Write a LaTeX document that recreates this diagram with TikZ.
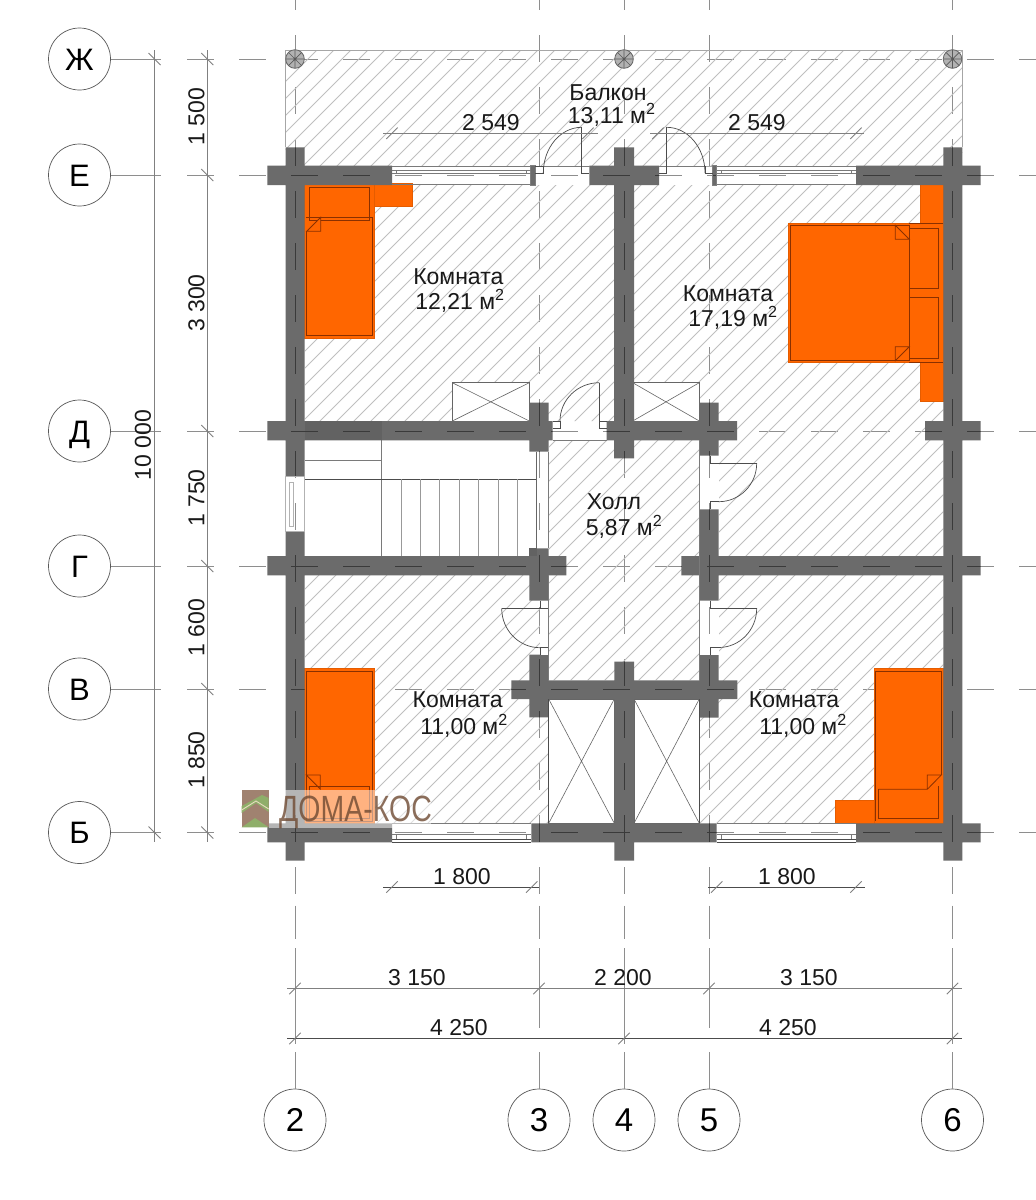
\documentclass[tikz,border=0pt]{standalone}
\usepackage{fontspec}
\setmainfont{Liberation Sans}
\definecolor{wallc}{HTML}{6B6B6B}
\definecolor{wallb}{HTML}{626262}
\definecolor{axisc}{HTML}{8E8E8E}
\definecolor{axisd}{HTML}{3A3A3A}
\definecolor{hatchc}{HTML}{BFBFBF}
\definecolor{orng}{HTML}{FF6600}
\definecolor{orne}{HTML}{E55C00}
\definecolor{ornl}{HTML}{8A3000}
\definecolor{linec}{HTML}{7A7A7A}
\definecolor{dimc}{HTML}{808080}
\definecolor{logob}{HTML}{A08270}
\definecolor{logog}{HTML}{8FAE6A}
\definecolor{logoc}{HTML}{E8DCC0}
\definecolor{logot}{HTML}{6F4A32}
\tikzset{
  axisln/.style={draw=axisc,line width=0.9pt},
  axiscirc/.style={circle,draw=black!65,line width=0.7pt,fill=white,minimum size=62pt,inner sep=0pt,text height=22pt,text depth=0pt},
  axislet/.style={axiscirc,font=\fontsize{31}{31}\selectfont},
  axisnum/.style={axiscirc,font=\fontsize{33}{33}\selectfont,text height=23.5pt},
  lbl/.style={inner sep=0pt,font=\fontsize{23}{23}\selectfont,text height=16.5pt,text depth=0pt,text=black!90},
  dimln/.style={draw=dimc,line width=0.9pt},
  dimdk/.style={draw=black!70,line width=0.9pt},
  thin line/.style={draw=linec,line width=0.8pt},
  dark line/.style={draw=black!70,line width=0.7pt},
  bedfill/.style={fill=orng,draw=orne,line width=1pt},
  bedline/.style={draw=ornl,line width=0.8pt},
}
\def\wallpath{
 (285.7,147.3) rectangle (304.7,476.7) (285.7,531.3) rectangle (304.7,860.7)
 (614,147.3) rectangle (634,458.3)
 (614.3,661.7) rectangle (634,860.7)
 (943.3,147.3) rectangle (962.3,860.7)
 (267.3,165.7) rectangle (392,185) (530.7,165.7) rectangle (535.3,185)
 (589.3,165.7) rectangle (659,185) (712.7,165.7) rectangle (716.7,185)
 (856,165.7) rectangle (980.7,185)
 (267.3,421) rectangle (552.7,440.3) (606.7,421) rectangle (737,440.3) (925,421) rectangle (980.7,440.3)
 (529.3,402.7) rectangle (548.7,451.7) (699.3,402.7) rectangle (718.7,455.7)
 (699.3,509.3) rectangle (718.7,600.7) (699.3,655) rectangle (718.7,717.7)
 (267.3,556) rectangle (566.3,575.3) (681.3,556) rectangle (980.7,575.3)
 (529.3,548.3) rectangle (548.7,600.7) (529.3,654.7) rectangle (548.7,717.3)
 (511.3,680.3) rectangle (737.3,699)
 (267.3,823.3) rectangle (392,842.3) (531.3,823.3) rectangle (716.7,842.3) (856,823.3) rectangle (980.7,842.3)
}
\def\hatchpath{
 (285.5,50) rectangle (962.3,166)
 (305,185) rectangle (614,421) (634,185) rectangle (943.3,421)
 (719,421) rectangle (943.3,556)
 (549,440) rectangle (699.3,680)
 (305,575) rectangle (548.3,823.3)
 (719,575) rectangle (943.3,700) (699.3,699) rectangle (943.3,823.3)
}
\newcommand{\htick}[2]{\draw[dimln] (#1-5.7,#2+5.7) -- (#1+5.7,#2-5.7);}
\newcommand{\vtick}[2]{\draw[dimln] (#1-6,#2-6) -- (#1+6,#2+6);}
\newcommand{\qarc}[4]{\draw[dark line] (#1,#2) .. controls ({#1},{#2+.5523*(#4-#2)}) and ({#3+.5523*(#1-#3)},{#4}) .. (#3,#4);}
\newcommand{\axeslines}[1]{%
  \foreach \yy in {59,175,431,566,689,832.5}{
    \draw[#1,dash pattern=on 27pt off 25pt] (187,\yy) -- (1036,\yy);}
  \foreach \xx in {295,539,624,709,952.5}{
    \draw[#1,dash pattern=on 27pt off 25pt] (\xx,-17) -- (\xx,895);}
}
\begin{document}
\begin{tikzpicture}[x=1pt,y=-1pt]
\useasboundingbox (0,0) rectangle (1036,1200);
\fill[white] (0,0) rectangle (1036,1200);

% grid axes
\axeslines{axisln}

% hatching
\begin{scope}
  \clip \hatchpath;
  \foreach \c in {-1190,-1173,...,1040}{
    \draw[draw=hatchc,line width=0.8pt] (\c,1200) -- (\c+1200,0);}
\end{scope}
\draw[draw=black!35,line width=1pt] (285.5,147) -- (285.5,50) -- (962.3,50) -- (962.3,147);
\draw[draw=black!35,line width=0.8pt] (392,166) -- (856,166);

% axis bubbles
\node[axislet] (rowJ) at (79.5,59) {Ж};
\node[axislet] (rowE) at (79.5,175) {Е};
\node[axislet] (rowD) at (79.5,431) {Д};
\node[axislet] (rowG) at (79.5,566) {Г};
\node[axislet] (rowV) at (79.5,689) {В};
\node[axislet] (rowB) at (79.5,832.5) {Б};
\node[axisnum] (col2) at (295,1120) {2};
\node[axisnum] (col3) at (539,1120) {3};
\node[axisnum] (col4) at (624,1120) {4};
\node[axisnum] (col5) at (709,1120) {5};
\node[axisnum] (col6) at (952.5,1120) {6};
\foreach \n in {rowJ,rowE,rowD,rowG,rowV,rowB}{
  \draw[axisln] (\n.east) -- ++(50,0);}
\foreach \n in {col2,col3,col4,col5,col6}{
  \draw[axisln] (\n.north) -- ++(0,-37);
  \draw[axisln] (\n.north) ++(0,-61) -- ++(0,-80);
  \draw[axisln] (\n.north) ++(0,-183) -- ++(0,33);
}
\foreach \xx/\ya/\yb in {295/1028/1044,952.5/1028/1044,624/1000/1044}{
  \draw[axisln] (\xx,\ya) -- (\xx,\yb);}

% white service boxes
\foreach \a/\b/\cc/\d in {452.3/382.7/529.3/421,632.7/382.7/699.3/421,548.7/699/614.3/823.3,634/699/699.3/823.3}{
  \draw[fill=white,draw=black!60,line width=0.6pt] (\a,\b) rectangle (\cc,\d);
  \draw[draw=black!60,line width=0.6pt] (\a,\b) -- (\cc,\d) (\a,\d) -- (\cc,\b);
}

% balcony posts
\foreach \xx in {295,624,952.5}{
  \draw[fill=black!30,draw=black!60,line width=0.8pt] (\xx,59) circle[radius=9.3];
  \draw[draw=black!65,line width=0.7pt] (\xx-6.5,52.5) -- (\xx+6.5,65.5) (\xx-6.5,65.5) -- (\xx+6.5,52.5) (\xx-9,59) -- (\xx+9,59) (\xx,50) -- (\xx,68);
}

% furniture
\draw[bedfill] (374.7,183.3) rectangle (412.7,206.3);
\draw[bedfill] (304.3,183.3) rectangle (374.7,338);
\draw[bedline] (309.3,187.7) rectangle (369.7,220);
\draw[bedline] (306,217.3) -- (372,217.3) -- (372,335.7) -- (306,335.7) -- (306,231.3);
\draw[bedline,fill=orng] (320.7,217.3) -- (306.7,231.3) -- (320.7,231.3) -- cycle;

\draw[bedfill] (920,184.7) rectangle (943.3,223.3);
\draw[bedfill] (920,362.7) rectangle (943.3,401.7);
\draw[bedfill] (788.3,223.3) rectangle (943.3,362.7);
\draw[bedline] (906.7,228.3) rectangle (938.7,288.3);
\draw[bedline] (906.7,297.3) rectangle (938.7,358.3);
\draw[bedline,fill=orng] (790.7,225.3) rectangle (909.3,360.7);
\draw[bedline] (895.3,225.3) -- (909.3,239.3) -- (895.3,239.3) -- cycle;
\draw[bedline] (895.3,360.7) -- (909.3,346.7) -- (895.3,346.7) -- cycle;
\draw[bedline] (909.3,223.3) -- (943.3,223.3) (909.3,362.7) -- (943.3,362.7);

\draw[bedfill] (304.3,668.3) rectangle (374.3,823.3);
\draw[bedline] (306.3,671) rectangle (372.7,821);
\draw[bedline] (306.3,775) -- (320.3,775) -- (320.3,789) -- cycle;
\draw[bedline] (309.3,786.7) rectangle (369.7,818);

\draw[bedfill] (835,800) rectangle (874,823.3);
\draw[bedfill] (874,668.3) rectangle (943.3,823.3);
\draw[bedline] (875.7,671) -- (941.3,671) -- (941.3,775) (875.7,671) -- (875.7,821);
\draw[bedline] (878.3,789.3) -- (927.3,789.3) -- (941.3,775) -- (927.3,775) -- (927.3,789.3);
\draw[bedline] (938.7,786) -- (938.7,818.3) -- (878.3,818.3) -- (878.3,789.3);

% stairs
\draw[thin line] (305,460) -- (381.7,460) (381.7,440.3) -- (381.7,556);
\draw[draw=black!70,line width=0.8pt] (305,479.3) -- (536.7,479.3);
\draw[draw=black!60,line width=0.7pt] (536.7,451.7) -- (536.7,548.3);
\draw[thin line] (548.7,451.7) -- (548.7,548.3);
\foreach \xx in {401.3,420.3,439.3,459.3,478.7,498,517.3}{
  \draw[draw=black!40,line width=0.8pt] (\xx,479.3) -- (\xx,556);}

% walls
\fill[wallc] \wallpath;
\fill[wallb] (305,421) rectangle (382,440.3);
\fill[wallb] (529.3,548.3) rectangle (537,556);
\begin{scope}
  \clip \wallpath;
  \axeslines{draw=axisd,line width=0.9pt}
\end{scope}
\draw[draw=black!50,line width=0.5pt] (530.7,165.7) rectangle (535.3,185);
\draw[draw=black!50,line width=0.5pt] (712.7,165.7) rectangle (716.7,185);

% windows
\foreach \a/\bb in {392/530.7,716.7/856}{
  \draw[thin line] (\a,165.9) -- (\bb,165.9) (\a,184.8) -- (\bb,184.8);
  \draw[thin line] (\a,170) -- (\bb,170) (\a,173.3) -- (\bb,173.3);
  \draw[thin line] (\a+4.7,170) -- (\a+4.7,173.3) (\bb-4.7,170) -- (\bb-4.7,173.3);
}
\foreach \a/\bb in {392/531.3,716.7/856}{
  \draw[thin line] (\a,823.5) -- (\bb,823.5);
  \draw[dark line] (\a,842.1) -- (\bb,842.1) (\a,839) -- (\bb,839);
  \draw[thin line] (\a,834.3) -- (\bb,834.3);
  \draw[thin line] (\a+4.7,834.3) -- (\a+4.7,839) (\bb-4.7,834.3) -- (\bb-4.7,839);
}
\draw[draw=black!30,line width=0.7pt] (285.7,476.7) rectangle (304.7,531.3);
\draw[draw=black!30,line width=0.7pt] (289.3,482) rectangle (293.3,526);

% doors
\draw[thin line] (543.3,166) -- (589.3,166);
\draw[dark line] (535.3,166) -- (543.3,166) -- (543.3,173.3) -- (535.3,173.3);
\draw[dark line] (581.7,127.3) -- (581.7,173.3) -- (589.3,173.3);
\qarc{543.3}{173}{581.7}{127.3}
\draw[thin line] (659,166) -- (705,166);
\draw[dark line] (659,173.3) -- (666.7,173.3) -- (666.7,127.3);
\draw[dark line] (712.7,173.3) -- (705,173.3) -- (705,166);
\qarc{705}{173}{666.7}{127.3}

\draw[thin line] (552.7,440.3) -- (606.7,440.3);
\draw[dark line] (552.7,421) -- (560,421) -- (560,428.3) -- (552.7,428.3);
\draw[dark line] (606.7,421) -- (599.3,421) -- (599.3,382.7);
\draw[dark line] (599.3,421) -- (599.3,428.3) -- (606.7,428.3);
\qarc{560}{421}{599.3}{382.7}

\draw[thin line] (699.3,440.3) -- (699.3,509.3);
\draw[dark line] (710.7,455.7) -- (710.7,463.3) -- (756.7,463.3);
\draw[dark line] (710.7,509.3) -- (710.7,501.7) -- (718.7,501.7);
\qarc{756.7}{463.3}{718.7}{501.7}

\draw[thin line] (699.3,600.7) -- (699.3,655);
\draw[dark line] (710.7,600.7) -- (710.7,608.3) -- (756.7,608.3);
\draw[dark line] (710.7,655) -- (710.7,647.5) -- (718.7,647.5);
\qarc{756.7}{608.3}{718.7}{647.5}

\fill[white] (540,600.7) rectangle (548.3,654.7);
\draw[thin line] (548.3,600.7) -- (548.3,654.7);
\draw[dark line] (540,600.7) -- (540,608.3);
\draw[dark line] (501.7,608.3) -- (548.3,608.3);
\draw[dark line] (540,654.7) -- (540,647.7) -- (548.3,647.7);
\qarc{501.7}{608.3}{540}{647.7}

% closet and room edges
\draw[dark line] (548.7,699) -- (548.7,823.3);
\draw[dark line] (699.3,699) -- (699.3,823.3);
\draw[thin line] (699.3,440.3) -- (699.3,680);
\draw[thin line] (548.7,575) -- (548.7,680);

% dimension lines
\draw[dimln] (154.5,50) -- (154.5,842);
\draw[dimln] (207.3,50) -- (207.3,842);
\vtick{154.5}{59}\vtick{154.5}{832.5}
\foreach \yy in {59,175,431,566,689,832.5}{\vtick{207.3}{\yy}}
\draw[dimln] (287,988.5) -- (962,988.5);
\draw[dimdk] (287,1038.5) -- (962,1038.5);
\foreach \xx in {295,539,709,952.5}{\htick{\xx}{988.5}}
\foreach \xx in {295,624,952.5}{\htick{\xx}{1038.5}}
\draw[dimln] (383,133.3) -- (598,133.3);
\htick{392}{133.3}\htick{588}{133.3}
\draw[dimln] (650,133.3) -- (864,133.3);
\htick{658}{133.3}\htick{856}{133.3}
\draw[dimdk] (383,887) -- (539.3,887);
\htick{392}{887}\htick{531.7}{887}
\draw[dimdk] (708,887) -- (865,887);
\htick{716.7}{887}\htick{856}{887}

% dimension labels
\node[lbl,rotate=90] (d1) at (196,116.5) {1 500};
\node[lbl,rotate=90] (d2) at (196,303) {3 300};
\node[lbl,rotate=90] (d3) at (196,498) {1 750};
\node[lbl,rotate=90] (d4) at (196,627.5) {1 600};
\node[lbl,rotate=90] (d5) at (196,760) {1 850};
\node[lbl,rotate=90] (d6) at (142.5,445) {10 000};
\node[lbl] (w1) at (491,122) {2 549};
\node[lbl] (w2) at (757,122) {2 549};
\node[lbl] (w3) at (462,876) {1 800};
\node[lbl] (w4) at (787,876) {1 800};
\node[lbl] (b1) at (417,977) {3 150};
\node[lbl] (b2) at (623,977) {2 200};
\node[lbl] (b3) at (809,977) {3 150};
\node[lbl] (b4) at (459,1027) {4 250};
\node[lbl] (b5) at (788,1027) {4 250};

% room labels
\node[lbl] (r1a) at (608,92) {Балкон};
\node[lbl] (r1b) at (611.7,115) {13,11 м\textsuperscript{2}};
\node[lbl] (r2a) at (458.3,276.7) {Комната};
\node[lbl] (r2b) at (460,301.7) {12,21 м\textsuperscript{2}};
\node[lbl] (r3a) at (728,293) {Комната};
\node[lbl] (r3b) at (733,318) {17,19 м\textsuperscript{2}};
\node[lbl] (r4a) at (614,501.7) {Холл};
\node[lbl] (r4b) at (624,527.3) {5,87 м\textsuperscript{2}};
\node[lbl] (r5a) at (457.7,699) {Комната};
\node[lbl] (r5b) at (464,726) {11,00 м\textsuperscript{2}};
\node[lbl] (r6a) at (794,699) {Комната};
\node[lbl] (r6b) at (803,726) {11,00 м\textsuperscript{2}};

% watermark
\fill[white,opacity=0.5] (268.7,790) rectangle (431,828);
\fill[logob] (241.7,790) rectangle (268.7,827.3);
\fill[logog] (241.7,813) -- (256,803) -- (268.7,812) -- (268.7,798) -- (262,795) -- (241.7,806) -- cycle;
\fill[logog] (241.7,827.3) -- (255,818) -- (268.7,827.3) -- cycle;
\draw[draw=logoc,line width=0.9pt] (241.7,810) -- (256,801) -- (268.7,809);
\node[inner sep=0pt,anchor=center,opacity=0.8,text=logot,font=\fontsize{36.5}{36.5}\selectfont,xscale=0.78,text height=26pt,text depth=0pt] (logo) at (355.5,808.3) {ДОМА-КОС};
\end{tikzpicture}
\end{document}
